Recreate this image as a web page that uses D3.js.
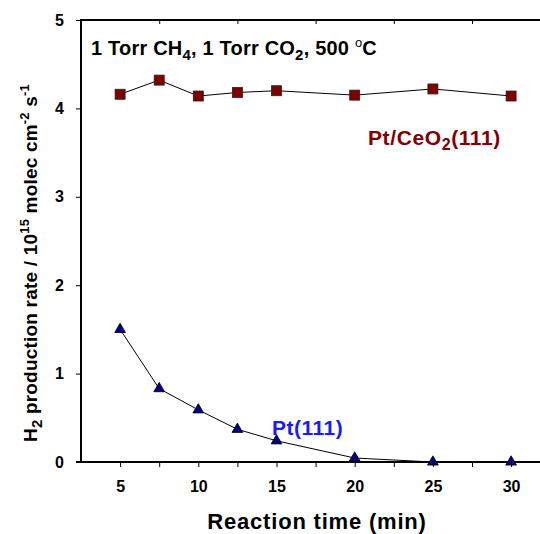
<!DOCTYPE html>
<html><head><meta charset="utf-8">
<script src="https://cdn.jsdelivr.net/npm/d3@7"></script>
<style>body{margin:0;background:#fff}svg{display:block;font-family:Arial,"Liberation Sans",sans-serif;font-weight:bold}</style>
</head><body><svg id="c" width="540" height="534"></svg>
<script>
const times = [5, 7.5, 10, 12.5, 15, 20, 25, 30];
const ptCeO2 = [4.16, 4.32, 4.14, 4.18, 4.20, 4.15, 4.22, 4.14];
const pt111 = [1.50, 0.83, 0.59, 0.37, 0.24, 0.045, 0.0, 0.0];
const xTicks = [5, 10, 15, 20, 25, 30];
const xMinor = [7.5, 12.5, 17.5, 22.5, 27.5];
const yTicks = [0, 1, 2, 3, 4, 5];

const svg = d3.select("#c");
const m = {l:81, t:20, b:462};
const x = d3.scaleLinear().domain([2.5, 32.5]).range([m.l, m.l + 30*15.64]);
const y = d3.scaleLinear().domain([0, 5]).range([m.b, m.t]);
const W = 540;

// axes
const gx = svg.append("g").attr("transform", `translate(0,${m.b})`)
  .call(d3.axisBottom(x).tickValues(xTicks.concat(xMinor)).tickSize(5).tickPadding(14).tickFormat(d => xTicks.includes(d) ? d : ""));
gx.select(".domain").remove();
gx.selectAll(".tick line").attr("stroke","#000");
gx.selectAll(".tick text").attr("font-size",16).attr("font-weight","bold").attr("font-family","Arial").attr("fill","#000");
svg.append("line").attr("x1",m.l-5).attr("x2",W).attr("y1",m.b).attr("y2",m.b).attr("stroke","#000").attr("stroke-width",2);

const gt = svg.append("g").attr("transform", `translate(0,${m.t})`)
  .call(d3.axisBottom(x).tickValues(xMinor).tickSize(4).tickFormat(""));
gt.select(".domain").remove();
gt.selectAll(".tick line").attr("stroke","#000");
svg.append("line").attr("x1",m.l).attr("x2",W).attr("y1",m.t).attr("y2",m.t).attr("stroke","#000").attr("stroke-width",2);

const gy = svg.append("g").attr("transform", `translate(${m.l},0)`)
  .call(d3.axisLeft(y).tickValues(yTicks).tickSize(5).tickPadding(12).tickFormat(d3.format("d")));
gy.select(".domain").remove();
gy.selectAll(".tick line").attr("stroke","#000");
gy.selectAll(".tick text").attr("font-size",16).attr("font-weight","bold").attr("font-family","Arial").attr("fill","#000");
svg.append("line").attr("x1",m.l).attr("x2",m.l).attr("y1",m.t-1).attr("y2",m.b+1).attr("stroke","#000").attr("stroke-width",2);

// lines
const line = d3.line().x((d,i)=>x(times[i])).y(d=>y(d));
svg.append("path").attr("d", line(ptCeO2)).attr("fill","none").attr("stroke","#000").attr("stroke-width",1);
svg.append("path").attr("d", line(pt111)).attr("fill","none").attr("stroke","#000").attr("stroke-width",1);

// markers
svg.selectAll(".sq").data(ptCeO2).join("rect")
  .attr("x",(d,i)=>x(times[i])-5).attr("y",d=>y(d)-5).attr("width",10).attr("height",10)
  .attr("fill","#800000").attr("stroke","#222").attr("stroke-width",0.8);
const tri = d3.symbol().type(d3.symbolTriangle).size(50);
svg.selectAll(".tr").data(pt111).join("path")
  .attr("transform",(d,i)=>`translate(${x(times[i])},${y(d)})`).attr("d",tri())
  .attr("fill","#000080").attr("stroke","#000").attr("stroke-width",0.8);

// annotations
const t1 = svg.append("text").attr("x",91).attr("y",55).attr("font-size",20).attr("letter-spacing",0.2).attr("fill","#000");
t1.append("tspan").text("1 Torr CH");
t1.append("tspan").attr("font-size",15).attr("dy",5).text("4");
t1.append("tspan").attr("dy",-5).text(", 1 Torr CO");
t1.append("tspan").attr("font-size",15).attr("dy",5).text("2");
t1.append("tspan").attr("dy",-5).text(", 500 ");
t1.append("tspan").attr("font-size",13).attr("font-weight","normal").attr("dy",-8).text("o");
t1.append("tspan").attr("dy",8).text("C");

const t2 = svg.append("text").attr("x",368).attr("y",145).attr("font-size",21).attr("letter-spacing",0.6).attr("fill","#800000");
t2.append("tspan").text("Pt/CeO");
t2.append("tspan").attr("font-size",16).attr("dy",5).text("2");
t2.append("tspan").attr("dy",-5).text("(111)");

svg.append("text").attr("x",272).attr("y",435).attr("font-size",21).attr("letter-spacing",0.5).attr("fill","#1a1aff").text("Pt(111)");

svg.append("text").attr("x",317).attr("y",529).attr("text-anchor","middle").attr("font-size",22).attr("letter-spacing",0.8).text("Reaction time (min)");

const yl = svg.append("text").attr("transform","translate(37,263) rotate(-90)").attr("text-anchor","middle").attr("font-size",19).attr("letter-spacing",0.2);
yl.append("tspan").text("H");
yl.append("tspan").attr("font-size",15).attr("dy",5).text("2");
yl.append("tspan").attr("dy",-5).text(" production rate / 10");
yl.append("tspan").attr("font-size",13).attr("dy",-8).text("15");
yl.append("tspan").attr("dy",8).text(" molec cm");
yl.append("tspan").attr("font-size",13).attr("dy",-8).text("-2");
yl.append("tspan").attr("dy",8).text(" s");
yl.append("tspan").attr("font-size",13).attr("dy",-8).text("-1");
</script></body></html>
